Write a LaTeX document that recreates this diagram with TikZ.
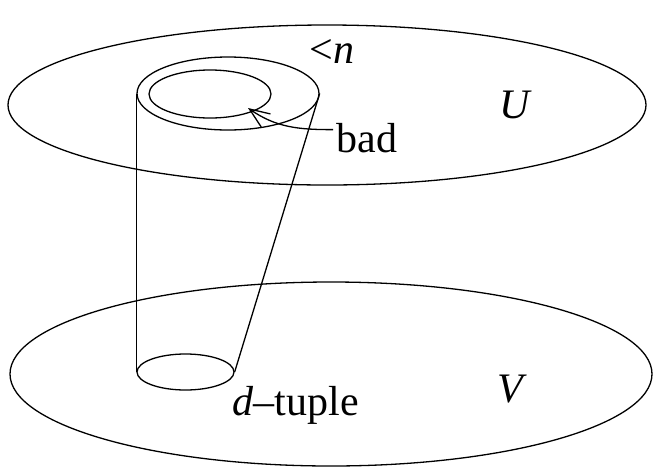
\documentclass[tikz,border=0pt]{standalone}
\usepackage{fontspec}
\setmainfont{Liberation Serif}
\usetikzlibrary{shapes.geometric,arrows.meta}
\tikzset{
  plane/.style={
    shape = ellipse,
    draw,
    inner sep = 0pt
  },
  lbl/.style={
    inner sep = 0pt,
    anchor = base west,
    font = \fontsize{21}{25}\selectfont
  }
}
\begin{document}
\begin{tikzpicture}[x=0.5pt,y=-0.5pt,line width=0.65pt]
        \useasboundingbox (0,0) rectangle (654,472);
        % the two sets
        \node[plane,minimum width=319pt,minimum height=80pt] (U) at (327,105) {};
        \node[plane,minimum width=321pt,minimum height=92pt] (V) at (331,374) {};
        % tube
        \node[plane,minimum width=91pt,minimum height=36.5pt] (outer) at (228,93.5) {};
        \node[plane,minimum width=61pt,minimum height=24pt] (inner) at (210,94) {};
        \node[plane,minimum width=48.5pt,minimum height=18pt] (tuple) at (185.5,372) {};
        \draw (outer.west) -- (tuple.west);
        \draw (outer.east) -- (tuple.east);
        % labels
        \node[lbl] (less) at (309,63) {<\textit{n}};
        \node[lbl] (Ulbl) at (499,118) {\textit{U}};
        \node[lbl] (bad) at (336,152) {bad};
        \node[lbl] (Vlbl) at (497,402) {\textit{V}};
        \node[lbl] (dlbl) at (232,415) {\textit{d}--tuple};
        \coordinate (badtip) at (248,108);
        \draw[-{Straight Barb[length=10pt,width=8pt]}] ([xshift=-1.5pt,yshift=4pt]bad.west) to[out=180,in=-35] (badtip);
    \end{tikzpicture}
\end{document}
